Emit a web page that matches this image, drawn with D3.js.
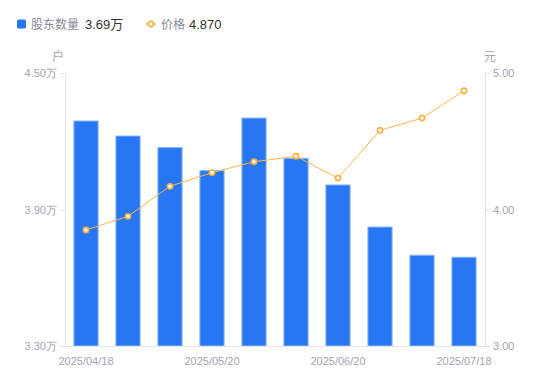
<!DOCTYPE html>
<html><head><meta charset="utf-8">
<script src="https://cdn.jsdelivr.net/npm/d3@7"></script>
<style>
html,body{margin:0;padding:0;background:#fff;}
svg{display:block;font-family:"Liberation Sans",Arial,"Noto Sans CJK SC",sans-serif;}
</style></head><body>
<svg id="c" width="550" height="381"></svg>
<script>
const dates = ["2025/04/18","2025/04/30","2025/05/09","2025/05/20","2025/05/30","2025/06/10","2025/06/20","2025/06/30","2025/07/10","2025/07/18"];
const holders = [4.289,4.223,4.172,4.071,4.302,4.125,4.008,3.823,3.699,3.690];
const prices = [3.85,3.95,4.17,4.27,4.35,4.39,4.23,4.58,4.67,4.87];
const leftTicks = [3.30,3.90,4.50];
const rightTicks = [3.00,4.00,5.00];
const shownDates = ["2025/04/18","2025/05/20","2025/06/20","2025/07/18"];

const svg = d3.select("#c");
const L = 65, R = 485, T = 73, B = 346;
const axisColor = "#e3e3e8", labelColor = "#a3a3b3";

const x = d3.scaleBand().domain(dates).range([L, R]).paddingInner(0.4).paddingOuter(0.2);
const yL = d3.scaleLinear().domain([3.30, 4.50]).range([B, T]);
const yR = d3.scaleLinear().domain([3.00, 5.00]).range([B, T]);

// bars
svg.append("g").selectAll("rect").data(holders).join("rect")
  .attr("x", (d,i) => x(dates[i]) + 0.5)
  .attr("width", x.bandwidth() - 1)
  .attr("y", d => yL(d))
  .attr("height", d => B - yL(d))
  .attr("fill", "#2777f5")
  .attr("stroke", "#8cb6f8").attr("stroke-width", 1);

// axes
function styleAxis(g){
  g.select(".domain").attr("stroke", axisColor);
  g.selectAll(".tick line").attr("stroke", axisColor);
  g.selectAll(".tick text").attr("fill", labelColor).attr("font-size", 11);
}
svg.append("g").attr("transform", `translate(${L},0)`)
  .call(d3.axisLeft(yL).tickValues(leftTicks).tickSize(5).tickSizeOuter(0).tickPadding(3)
    .tickFormat(d => d3.format(".2f")(d) + "万"))
  .call(styleAxis);
svg.append("g").attr("transform", `translate(${R},0)`)
  .call(d3.axisRight(yR).tickValues(rightTicks).tickSize(5).tickSizeOuter(0).tickPadding(3)
    .tickFormat(d3.format(".2f")))
  .call(styleAxis);
svg.append("g").attr("transform", `translate(0,${B})`)
  .call(d3.axisBottom(x).tickValues(shownDates).tickSize(0).tickSizeOuter(0).tickPadding(11))
  .call(styleAxis)
  .call(g => g.select(".domain").attr("d", `M${L},0.5H${R}`));

// units
svg.append("text").attr("x", 58).attr("y", 61).attr("text-anchor","middle")
  .attr("fill", labelColor).attr("font-size", 12).text("户");
svg.append("text").attr("x", 490).attr("y", 61).attr("text-anchor","middle")
  .attr("fill", labelColor).attr("font-size", 12).text("元");

// line
const cx = i => x(dates[i]) + x.bandwidth()/2;
svg.append("path").datum(prices)
  .attr("fill","none").attr("stroke","#fbb64a").attr("stroke-width",1)
  .attr("d", d3.line().x((d,i)=>cx(i)).y(d=>yR(d)));
svg.append("g").selectAll("circle").data(prices).join("circle")
  .attr("cx",(d,i)=>cx(i)).attr("cy",d=>yR(d)).attr("r",2.6)
  .attr("fill","#fff").attr("stroke","#fbb03b").attr("stroke-width",1.6);

// legend
const lg = svg.append("g");
lg.append("rect").attr("x",17).attr("y",19.5).attr("width",9).attr("height",9).attr("rx",1.5).attr("fill","#2777f5");
lg.append("text").attr("x",31).attr("y",28.5).attr("font-size",12).attr("fill","#8a8a99").text("股东数量");
lg.append("text").attr("x",85).attr("y",28.5).attr("font-size",13).attr("fill","#333").text(d3.format(".2f")(holders[holders.length-1]) + "万");
lg.append("line").attr("x1",146).attr("x2",156).attr("y1",24).attr("y2",24).attr("stroke","#fbb03b").attr("stroke-width",1.5);
lg.append("circle").attr("cx",151).attr("cy",24).attr("r",2.6).attr("fill","#fff").attr("stroke","#fbb03b").attr("stroke-width",1.6);
lg.append("text").attr("x",161).attr("y",28.5).attr("font-size",12).attr("fill","#8a8a99").text("价格");
lg.append("text").attr("x",189).attr("y",28.5).attr("font-size",13).attr("fill","#333").text(d3.format(".3f")(prices[prices.length-1]));
</script>
</body></html>
